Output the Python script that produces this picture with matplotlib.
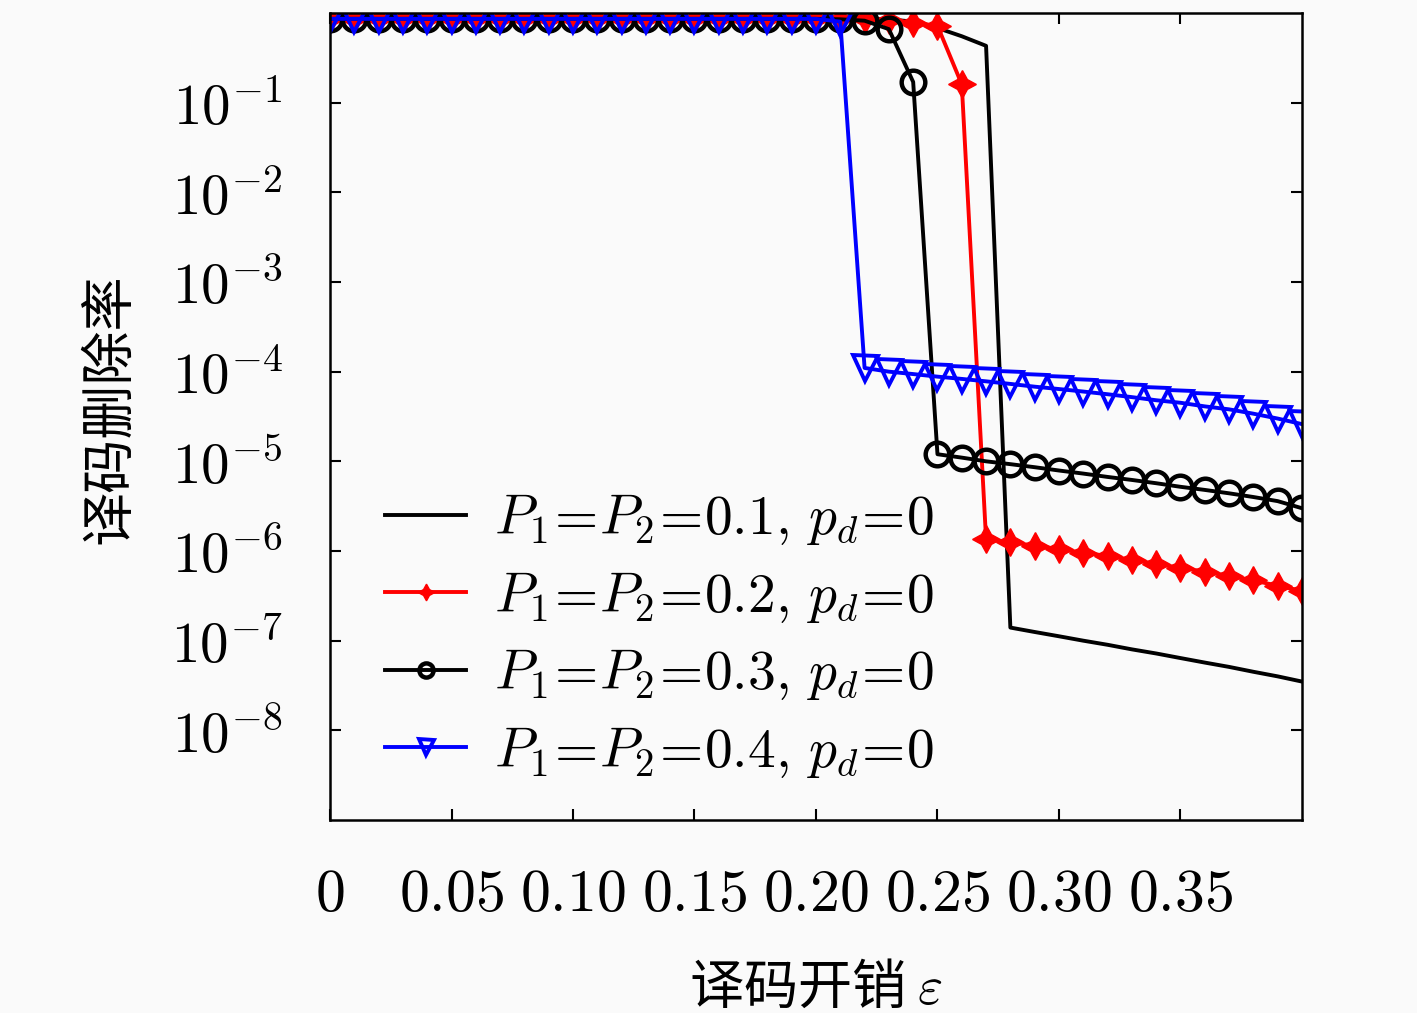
import numpy as np
import matplotlib
matplotlib.use("Agg")
import matplotlib.pyplot as plt
from matplotlib.ticker import NullLocator, FixedLocator, FixedFormatter

plt.rcParams['font.family'] = ['Noto Sans CJK SC', 'DejaVu Sans']
plt.rcParams['mathtext.fontset'] = 'cm'

# 译码开销 (0 ~ 0.40, 步长 0.01)
eps = np.round(np.arange(0, 0.401, 0.01), 2)

# P1=P2=0.1 (黑色实线)
ber_p01 = [0.87, 0.87, 0.87, 0.87, 0.87, 0.87, 0.87, 0.87, 0.87, 0.87,
           0.87, 0.87, 0.87, 0.87, 0.87, 0.87, 0.87, 0.87, 0.87, 0.87,
           0.87, 0.87, 0.86, 0.85, 0.80, 0.68, 0.55, 0.43,
           1.40e-7, 1.25e-7, 1.12e-7, 1.0e-7, 9.0e-8, 8.0e-8, 7.2e-8, 6.4e-8,
           5.7e-8, 5.1e-8, 4.5e-8, 4.0e-8, 3.5e-8]

# P1=P2=0.2 (红色星形)
ber_p02 = [0.86, 0.86, 0.86, 0.86, 0.86, 0.86, 0.86, 0.86, 0.86, 0.86,
           0.86, 0.86, 0.86, 0.86, 0.86, 0.86, 0.86, 0.86, 0.86, 0.86,
           0.86, 0.86, 0.85, 0.84, 0.78, 0.72, 0.16,
           1.35e-6, 1.25e-6, 1.15e-6, 1.05e-6, 9.6e-7, 8.8e-7, 8.0e-7,
           7.2e-7, 6.5e-7, 5.9e-7, 5.3e-7, 4.7e-7, 4.1e-7, 3.6e-7]

# P1=P2=0.3 (黑色圆圈)
ber_p03 = [0.86, 0.86, 0.86, 0.86, 0.86, 0.86, 0.86, 0.86, 0.86, 0.86,
           0.86, 0.86, 0.86, 0.86, 0.86, 0.86, 0.86, 0.86, 0.86, 0.86,
           0.86, 0.85, 0.82, 0.66, 0.17,
           1.2e-5, 1.1e-5, 1.0e-5, 9.3e-6, 8.6e-6, 7.9e-6, 7.3e-6, 6.7e-6,
           6.2e-6, 5.7e-6, 5.2e-6, 4.8e-6, 4.4e-6, 4.0e-6, 3.6e-6, 3.0e-6]

# P1=P2=0.4 (蓝色倒三角)
ber_p04 = [0.86, 0.86, 0.86, 0.86, 0.86, 0.86, 0.86, 0.86, 0.86, 0.86,
           0.86, 0.86, 0.86, 0.86, 0.86, 0.86, 0.86, 0.86, 0.86, 0.86,
           0.86, 0.80,
           1.1e-4, 1.0e-4, 9.4e-5, 8.8e-5, 8.3e-5, 7.8e-5, 7.3e-5, 6.8e-5,
           6.4e-5, 6.0e-5, 5.6e-5, 5.2e-5, 4.8e-5, 4.5e-5, 4.1e-5, 3.8e-5,
           3.4e-5, 3.0e-5, 2.6e-5]

labels = [r'$P_1\!=\!P_2\!=\!0.1,\, p_d\!=\!0$',
          r'$P_1\!=\!P_2\!=\!0.2,\, p_d\!=\!0$',
          r'$P_1\!=\!P_2\!=\!0.3,\, p_d\!=\!0$',
          r'$P_1\!=\!P_2\!=\!0.4,\, p_d\!=\!0$']

xtick_vals = [0, 0.05, 0.10, 0.15, 0.20, 0.25, 0.30, 0.35]
xtick_labels = ['$0$', '$0.05$', '$0.10$', '$0.15$', '$0.20$', '$0.25$', '$0.30$', '$0.35$']
ytick_vals = [1e-8, 1e-7, 1e-6, 1e-5, 1e-4, 1e-3, 1e-2, 1e-1]
ytick_labels = [r'$10^{-8}$', r'$10^{-7}$', r'$10^{-6}$', r'$10^{-5}$',
                r'$10^{-4}$', r'$10^{-3}$', r'$10^{-2}$', r'$10^{-1}$']

bg = '#fafafa'
fig = plt.figure(figsize=(14.17, 10.13), dpi=100, facecolor=bg)
ax = fig.add_axes([0.2329, 0.1905, 0.6859, 0.7967], facecolor=bg)

ax.semilogy(eps, ber_p01, color='black', lw=2.8, label=labels[0])
ax.semilogy(eps, ber_p02, color='#ff0000', lw=2.8, marker=(4, 1, 0),
            markersize=20, markerfacecolor='#ff0000', markeredgecolor='#ff0000',
            label=labels[1])
ax.semilogy(eps, ber_p03, color='black', lw=2.8, marker='o', markersize=17,
            markerfacecolor='none', markeredgewidth=3.2, label=labels[2])
ax.semilogy(eps, ber_p04, color='#0000ff', lw=2.8, marker='v', markersize=18,
            markerfacecolor='none', markeredgewidth=2.8, label=labels[3])

ax.set_xlim(0, 0.40)
ax.set_ylim(1e-9, 1)

ax.xaxis.set_major_locator(FixedLocator(xtick_vals))
ax.xaxis.set_major_formatter(FixedFormatter(xtick_labels))
ax.yaxis.set_major_locator(FixedLocator(ytick_vals))
ax.yaxis.set_major_formatter(FixedFormatter(ytick_labels))
ax.yaxis.set_minor_locator(NullLocator())
ax.tick_params(axis='both', which='major', direction='in', length=8, width=1.5,
               top=True, right=True)
ax.tick_params(axis='x', pad=32, labelsize=43)
ax.tick_params(axis='y', pad=34, labelsize=41)

for s in ax.spines.values():
    s.set_linewidth(1.8)

ax.set_xlabel(r'译码开销 $\varepsilon$', fontsize=39)
ax.xaxis.set_label_coords(0.5, -0.174)
ax.set_ylabel('译码删除率', fontsize=39)
ax.yaxis.set_label_coords(-0.198, 0.51)

ax.legend(loc='lower left', bbox_to_anchor=(0.057, 0.05), frameon=False,
          fontsize=40, handlelength=1.45, handletextpad=0.5, labelspacing=0.36,
          borderpad=0, borderaxespad=0, markerscale=0.6)

fig.savefig('out.png', dpi=100, facecolor=bg)
